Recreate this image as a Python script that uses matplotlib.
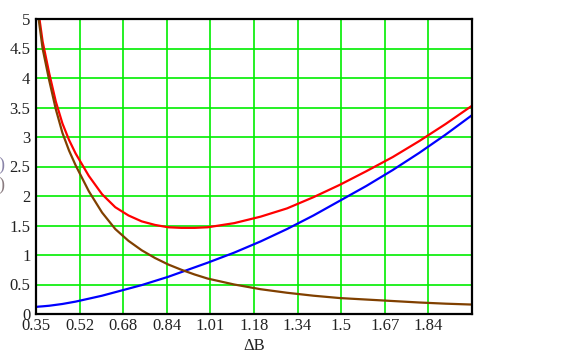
import matplotlib.pyplot as plt

# valeurs
dB = [0.35, 0.36, 0.375, 0.40, 0.425, 0.45, 0.475, 0.50, 0.55, 0.60, 0.65, 0.70,
      0.75, 0.80, 0.85, 0.90, 0.95, 1.00, 1.10, 1.20, 1.30, 1.40, 1.50, 1.60,
      1.70, 1.80, 1.90, 2.00]
brun = [5.3, 5.0, 4.5, 3.96, 3.47, 3.07, 2.77, 2.52, 2.08, 1.72, 1.44, 1.24,
        1.08, 0.95, 0.84, 0.75, 0.67, 0.6, 0.5, 0.42, 0.36, 0.31, 0.27, 0.245,
        0.22, 0.195, 0.175, 0.16]
bleu = [0.12, 0.125, 0.13, 0.14, 0.155, 0.17, 0.19, 0.21, 0.26, 0.31, 0.37, 0.43,
        0.49, 0.56, 0.63, 0.71, 0.79, 0.87, 1.04, 1.23, 1.44, 1.67, 1.92, 2.17,
        2.44, 2.73, 3.04, 3.37]
rouge = [5.4, 5.1, 4.62, 4.08, 3.6, 3.23, 2.95, 2.72, 2.34, 2.03, 1.81, 1.67,
         1.57, 1.51, 1.47, 1.46, 1.46, 1.47, 1.54, 1.65, 1.79, 1.98, 2.19, 2.42,
         2.66, 2.93, 3.22, 3.53]

xticks = [0.35, 0.515, 0.68, 0.845, 1.01, 1.175, 1.34, 1.505, 1.67, 1.835, 2.0]
xlabels = ["0.35", "0.52", "0.68", "0.84", "1.01", "1.18", "1.34", "1.5", "1.67", "1.84", ""]
yticks = [0, 0.5, 1, 1.5, 2, 2.5, 3, 3.5, 4, 4.5, 5]
ylabels = ["0", "0.5", "1", "1.5", "2", "2.5", "3", "3.5", "4", "4.5", "5"]

plt.rcParams['font.family'] = ['Liberation Serif', 'DejaVu Serif']

fig = plt.figure(figsize=(5.63, 3.53), dpi=100)
ax = fig.add_axes([36 / 563, 39 / 353, 436 / 563, 295 / 353])

ax.plot(dB, rouge, color='#ff0000', lw=1.6)
ax.plot(dB, bleu, color='#0000ff', lw=1.6)
ax.plot(dB, brun, color='#804000', lw=1.6)

ax.set_xlim(0.35, 2.0)
ax.set_ylim(0, 5)
ax.set_xticks(xticks)
ax.set_xticklabels(xlabels)
ax.set_yticks(yticks)
ax.set_yticklabels(ylabels)
ax.tick_params(axis='both', length=0, labelsize=12, colors='#222222')
ax.tick_params(axis='x', pad=3)
ax.tick_params(axis='y', pad=4)
ax.grid(True, color='#00ee00', lw=1.2)
ax.set_axisbelow(True)
for s in ax.spines.values():
    s.set_linewidth(1.6)
    s.set_color('black')

ax.set_xlabel("ΔB", fontsize=12, color='#222222')
ax.xaxis.set_label_coords(0.5, -(346 - 314) / 295)
ax.xaxis.label.set_va('center')

# morceaux d'étiquettes coupés au bord gauche
fig.text(4 / 563, 1 - 165 / 353, ")", ha='right', va='center', fontsize=13, color='#8a84a8')
fig.text(4 / 563, 1 - 185 / 353, ")", ha='right', va='center', fontsize=13, color='#8a7c80')

fig.savefig("out.png", dpi=100)
